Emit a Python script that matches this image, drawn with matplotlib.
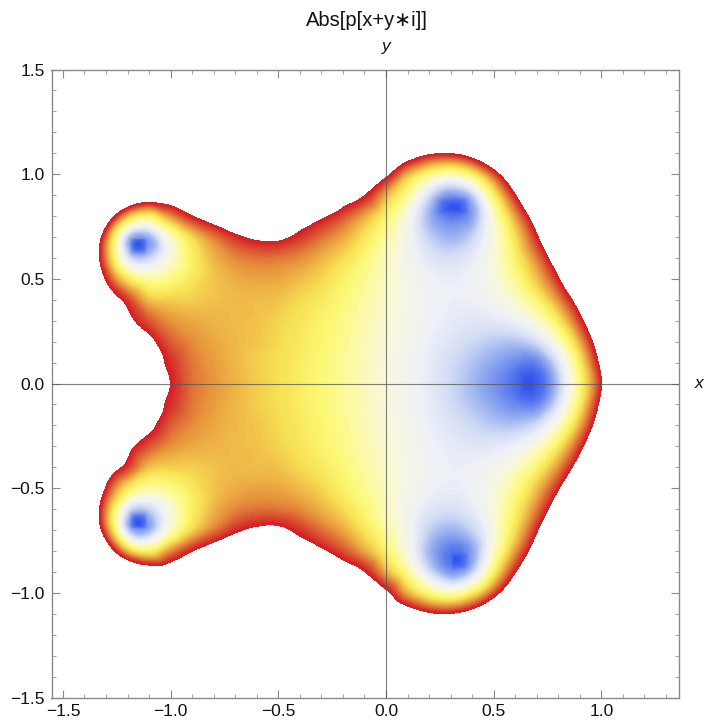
import numpy as np
import matplotlib
matplotlib.use("Agg")
import matplotlib.pyplot as plt
import matplotlib.tri as mtri
from matplotlib.colors import LinearSegmentedColormap
from matplotlib.ticker import MultipleLocator

plt.rcParams['font.family'] = ['Liberation Sans', 'DejaVu Sans']

# sample positions, values (upper half, y = 0 .. 1.2)
x_nodes = [-1.5, -1.4, -1.3, -1.2, -1.1, -1.0, -0.9, -0.8, -0.7, -0.6, -0.5, -0.4, -0.3, -0.2,
           -0.1, 0.0, 0.1, 0.2, 0.3, 0.4, 0.5, 0.6, 0.7, 0.8, 0.9, 1.0, 1.1]
y_nodes = [0.0, 0.1, 0.2, 0.3, 0.4, 0.5, 0.6, 0.7, 0.8, 0.9, 1.0, 1.1, 1.2]

abs_y00 = [4.99, 3.86, 3.07, 2.52, 2.14, 1.95, 1.71, 1.60, 1.51, 1.43, 1.36, 1.28, 1.20, 1.11,
           1.02, 0.93, 0.84, 0.74, 0.64, 0.52, 0.37, 0.20, 0.09, 0.56, 1.17, 1.95, 3.20]
abs_y01 = [4.9, 3.8, 3.01, 2.46, 2.10, 1.90, 1.69, 1.58, 1.50, 1.42, 1.36, 1.28, 1.20, 1.11,
           1.02, 0.93, 0.84, 0.75, 0.65, 0.555, 0.44, 0.32, 0.30, 0.685, 1.26, 2.10, 3.27]
abs_y02 = [4.7, 3.6, 2.88, 2.33, 2.05, 1.76, 1.63, 1.55, 1.49, 1.45, 1.38, 1.30, 1.22, 1.13,
           1.03, 0.94, 0.854, 0.77, 0.70, 0.634, 0.574, 0.557, 0.655, 0.962, 1.51, 2.35, 3.54]
abs_y03 = [4.6, 3.48, 2.63, 2.08, 1.78, 1.61, 1.54, 1.51, 1.48, 1.46, 1.40, 1.33, 1.24, 1.15,
           1.05, 0.96, 0.872, 0.80, 0.745, 0.716, 0.724, 0.779, 0.946, 1.28, 1.85, 2.70, 3.9]
abs_y04 = [4.4, 3.23, 2.31, 1.85, 1.46, 1.41, 1.42, 1.46, 1.49, 1.48, 1.46, 1.38, 1.30, 1.19,
           1.08, 0.97, 0.88, 0.81, 0.772, 0.779, 0.84, 0.97, 1.21, 1.60, 2.21, 3.07, 4.2]
abs_y05 = [4.5, 3.0, 1.93, 1.29, 1.07, 1.15, 1.31, 1.45, 1.53, 1.56, 1.55, 1.48, 1.39, 1.25,
           1.12, 0.99, 0.875, 0.79, 0.76, 0.80, 0.915, 1.12, 1.45, 1.93, 2.65, 3.6, 4.8]
abs_y06 = [4.6, 2.89, 1.62, 0.70, 0.60, 0.93, 1.26, 1.50, 1.64, 1.70, 1.69, 1.63, 1.51, 1.37,
           1.20, 1.01, 0.85, 0.717, 0.668, 0.742, 0.93, 1.23, 1.66, 2.26, 3.06, 4.1, 5.2]
abs_y07 = [5.0, 3.15, 1.70, 0.58, 0.47, 0.97, 1.38, 1.67, 1.90, 2.02, 2.03, 1.88, 1.71, 1.54,
           1.32, 1.09, 0.84, 0.60, 0.49, 0.605, 0.91, 1.34, 1.92, 2.62, 3.5, 4.6, 5.8]
abs_y08 = [5.9, 3.9, 2.42, 1.46, 1.21, 1.6, 1.95, 2.2, 2.4, 2.45, 2.4, 2.17, 2.02, 1.80,
           1.54, 1.23, 0.886, 0.50, 0.24, 0.42, 0.96, 1.56, 2.25, 3.1, 4.1, 5.2, 6.5]
abs_y09 = [6.8, 5.2, 3.67, 2.71, 2.33, 2.33, 2.48, 2.74, 2.95, 2.92, 2.94, 2.78, 2.59, 2.19,
           1.97, 1.51, 1.10, 0.66, 0.37, 0.58, 1.22, 1.95, 2.78, 3.8, 5.0, 6.3, 7.5]
abs_y10 = [7.8, 6.3, 4.8, 3.7, 3.3, 3.2, 3.3, 3.4, 3.5, 3.5, 3.4, 3.2, 2.86, 2.57,
           2.24, 2.05, 1.50, 1.16, 1.01, 1.23, 1.78, 2.58, 3.6, 4.8, 6.0, 7.5, 9.0]
abs_y11 = [9.0, 7.5, 6.0, 4.9, 4.4, 4.2, 4.2, 4.3, 4.3, 4.2, 4.1, 3.8, 3.5, 3.3,
           3.08, 2.62, 2.29, 2.03, 1.98, 2.22, 2.79, 3.7, 4.9, 6.2, 7.5, 9.0, 11.0]
abs_y12 = [11.0, 9.0, 7.5, 6.2, 5.6, 5.4, 5.4, 5.4, 5.3, 5.1, 4.9, 4.6, 4.2, 3.9,
           3.6, 3.3, 3.2, 3.17, 3.2, 3.5, 4.2, 5.2, 6.5, 8.0, 9.5, 11.0, 13.0]

# centres of the blue spots, where the value drops to zero
spot_x = [0.66, 0.32, 0.32, -1.15, -1.15]
spot_y = [0.0, 0.84, -0.84, 0.67, -0.67]

clip_value = 1.95
ticks_major = [-1.5, -1.0, -0.5, 0.0, 0.5, 1.0, 1.5]

temperature = [
    (0.00, (0.18, 0.31, 0.93)),
    (0.12, (0.32, 0.45, 0.93)),
    (0.25, (0.60, 0.69, 0.94)),
    (0.33, (0.82, 0.86, 0.96)),
    (0.40, (0.93, 0.94, 0.97)),
    (0.47, (0.97, 0.97, 0.88)),
    (0.56, (0.99, 0.98, 0.62)),
    (0.62, (0.99, 0.97, 0.45)),
    (0.70, (0.97, 0.88, 0.33)),
    (0.82, (0.91, 0.60, 0.24)),
    (0.91, (0.86, 0.36, 0.20)),
    (1.00, (0.84, 0.13, 0.15)),
]


def main():
    upper = np.array([abs_y00, abs_y01, abs_y02, abs_y03, abs_y04, abs_y05, abs_y06,
                      abs_y07, abs_y08, abs_y09, abs_y10, abs_y11, abs_y12])
    # the plot is symmetric about y = 0
    field = np.vstack([upper[:0:-1], upper])
    ys = np.array(y_nodes)
    ys = np.concatenate([-ys[:0:-1], ys])
    X, Y = np.meshgrid(x_nodes, ys)

    px = np.concatenate([X.ravel(), spot_x])
    py = np.concatenate([Y.ravel(), spot_y])
    pz = np.concatenate([field.ravel(), np.zeros(len(spot_x))])
    tri = mtri.Triangulation(px, py)
    # smooth the facets that plain linear triangles leave around the spots
    refiner = mtri.UniformTriRefiner(tri)
    tri_fine, pz_fine = refiner.refine_field(
        pz, triinterpolator=mtri.CubicTriInterpolator(tri, pz, kind='geom'), subdiv=3)

    cmap = LinearSegmentedColormap.from_list("temperature", temperature)

    fig = plt.figure(figsize=(7.08, 7.27), dpi=100)
    ax = fig.add_axes([51.5 / 708, 1 - 697.5 / 727, (678.5 - 51.5) / 708, (697.5 - 69.5) / 727])

    levels = np.concatenate([[-5.0], np.linspace(0, clip_value, 140)])
    cs = ax.tricontourf(tri_fine, pz_fine, levels=levels, cmap=cmap, vmin=0, vmax=clip_value)
    cs.set_edgecolor('face')
    cs.set_linewidth(0.3)

    ax.axhline(0, color='#555555', lw=0.8, alpha=0.75, zorder=5)
    ax.axvline(0, color='#555555', lw=0.8, alpha=0.75, zorder=5)

    ax.set_xlim(-1.553, 1.358)
    ax.set_ylim(-1.5, 1.5)
    ax.set_xticks([t for t in ticks_major if t <= 1.0])
    ax.set_yticks(ticks_major)
    ax.xaxis.set_minor_locator(MultipleLocator(0.1))
    ax.yaxis.set_minor_locator(MultipleLocator(0.1))
    ax.tick_params(which='major', direction='in', length=6, width=0.8, color='#8a8a8a',
                   top=True, right=True, labelsize=12.5, labelcolor='#111111', pad=5)
    ax.tick_params(which='minor', direction='in', length=3, width=0.7, color='#a0a0a0',
                   top=True, right=True)
    for spine in ax.spines.values():
        spine.set_color('#8a8a8a')
        spine.set_linewidth(1.0)

    fig.text(367 / 708, 1 - 21 / 727, "Abs[p[x+y\u2217i]]", ha='center', va='center',
             fontsize=14.5, color='#111111')
    fig.text(386 / 708, 1 - 47 / 727, "y", ha='center', va='center', fontsize=12.5,
             style='italic', color='#111111')
    fig.text(699 / 708, 1 - 384 / 727, "x", ha='center', va='center', fontsize=12.5,
             style='italic', color='#111111')

    fig.savefig("out.png", dpi=100)


if __name__ == '__main__':
    main()
